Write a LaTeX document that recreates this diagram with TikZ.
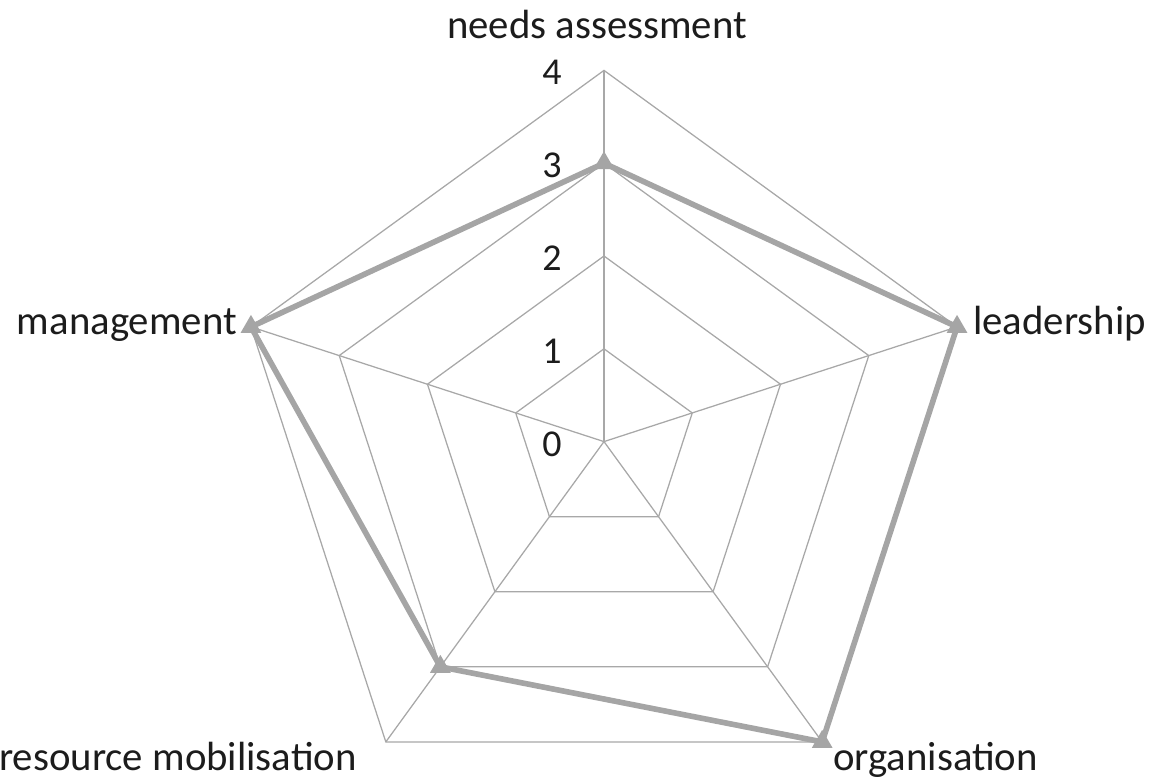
\documentclass[tikz,border=0pt]{standalone}
\usepackage{fontspec}
\setmainfont{Carlito}
\usetikzlibrary{shapes.geometric, calc}
\definecolor{gridgray}{RGB}{168,168,168}
\definecolor{seriesgray}{RGB}{165,165,165}
\definecolor{labelblack}{RGB}{28,28,28}

\begin{document}
\begin{tikzpicture}[
  grid/.style={draw=gridgray, line width=0.9pt},
  series/.style={draw=seriesgray, line width=4pt, line join=round},
  mk/.style={regular polygon, regular polygon sides=3, fill=seriesgray, inner sep=0pt, minimum size=0.6cm},
  cat/.style={font=\fontsize{29}{34}\selectfont, text=labelblack, inner sep=0pt},
  scalelbl/.style={font=\fontsize{27}{32}\selectfont, text=labelblack, inner sep=0pt, anchor=east}
]
  \useasboundingbox (-15.1,-8.41) rectangle (13.825,11.04);

  % axis ends (value 4)
  \coordinate (o) at (0,0);
  \foreach \name/\ang in {na/90, ld/18, og/-54, rm/-126, mg/162}
    \coordinate (\name) at (\ang:9.28);

  % rings and spokes
  \foreach \k in {1,...,4}
    \draw[grid] ($(o)!\k/4!(na)$) -- ($(o)!\k/4!(ld)$) -- ($(o)!\k/4!(og)$)
      -- ($(o)!\k/4!(rm)$) -- ($(o)!\k/4!(mg)$) -- cycle;
  \foreach \name in {na, ld, og, rm, mg}
    \draw[grid] (o) -- (\name);

  % scale
  \foreach \k in {0,...,4}
    \node[scalelbl] (s\k) at (-1.05, 2.32*\k-0.06) {\k};

  % data
  \coordinate (pna) at ($(o)!3/4!(na)$);
  \coordinate (pld) at (ld);
  \coordinate (pog) at (og);
  \coordinate (prm) at ($(o)!3/4!(rm)$);
  \coordinate (pmg) at (mg);
  \draw[series] (pna) -- (pld) -- (pog) -- (prm) -- (pmg) -- cycle;
  \foreach \p in {pna, pld, pog, prm, pmg}
    \node[mk] (m\p) at (\p) {};

  % categories
  \node[cat, anchor=base] (lna) at (-0.175, 10.07) {needs assessment};
  \node[cat, anchor=base west] (lld) at (9.225, 2.67) {leadership};
  \node[cat, anchor=base west] (log) at (5.725, -8.21) {organisation};
  \node[cat, anchor=base east] (lrm) at (-6.175, -8.21) {resource mobilisation};
  \node[cat, anchor=base east] (lmg) at (-9.175, 2.67) {management};
\end{tikzpicture}
\end{document}
